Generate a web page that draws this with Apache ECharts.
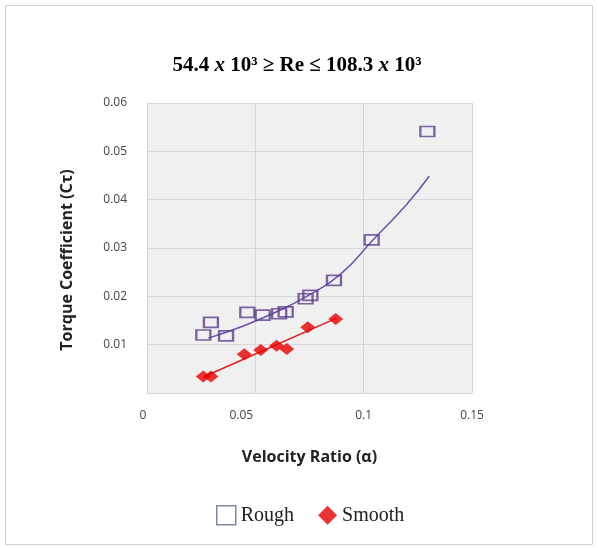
<!DOCTYPE html>
<html>
<head>
<meta charset="utf-8">
<script src="https://cdn.jsdelivr.net/npm/echarts@6/dist/echarts.min.js"></script>
<style>
  html, body { margin: 0; padding: 0; background: #fff; }
  #chart { width: 598px; height: 548px; }
</style>
</head>
<body>
<div id="chart"></div>
<script>
// data
var roughAlpha = [0.026, 0.0295, 0.0365, 0.0463, 0.0534, 0.061, 0.064, 0.0732, 0.0754, 0.0863, 0.1037, 0.1294];
var roughCt = [0.0120, 0.0146, 0.0118, 0.0167, 0.0161, 0.0164, 0.0168, 0.0195, 0.0202, 0.0233, 0.0317, 0.0541];
var smoothAlpha = [0.026, 0.0295, 0.0449, 0.0525, 0.0598, 0.0645, 0.0742, 0.0871];
var smoothCt = [0.0034, 0.0034, 0.0080, 0.0089, 0.0098, 0.0091, 0.0136, 0.0153];
// trend lines
var roughTrendAlpha = [0.0283, 0.0429, 0.0583, 0.0737, 0.0891, 0.1044, 0.1198, 0.1303];
var roughTrendCt = [0.01135, 0.0136, 0.0165, 0.0200, 0.0245, 0.0317, 0.0390, 0.0449];
var smoothTrendAlpha = [0.026, 0.0875];
var smoothTrendCt = [0.0033, 0.0155];
var xTicks = [0, 0.05, 0.1, 0.15];
var yTicks = [0.01, 0.02, 0.03, 0.04, 0.05, 0.06];

function pairs(xs, ys) {
  return xs.map(function (x, i) { return [x, ys[i]]; });
}

var chart = echarts.init(document.getElementById('chart'));
var option = {
  backgroundColor: '#fff',
  animation: false,
  graphic: [{
    type: 'rect',
    shape: { x: 5.5, y: 5.5, width: 587, height: 539 },
    style: { fill: 'none', stroke: '#d0d0d0', lineWidth: 1 }
  }],
  title: {
    text: '54.4 {i|x} 10³ ≥ Re ≤ 108.3 {i|x} 10³',
    left: 292,
    top: 50,
    textAlign: 'center',
    textStyle: {
      fontFamily: 'Liberation Serif',
      fontWeight: 'bold',
      fontSize: 21,
      color: '#000',
      rich: {
        i: { fontFamily: 'Liberation Serif', fontStyle: 'italic', fontWeight: 'bold', fontSize: 21, color: '#000' }
      }
    }
  },
  legend: {
    left: 211,
    top: 500,
    itemGap: 24,
    itemWidth: 19,
    itemHeight: 19,
    textStyle: { fontFamily: 'Liberation Serif', fontSize: 20, color: '#222' },
    data: [
      { name: 'Rough', icon: 'rect', itemStyle: { color: '#fff', borderColor: '#5b6b86', borderWidth: 1.5 } },
      { name: 'Smooth', icon: 'diamond', itemStyle: { color: '#e60000' } }
    ]
  },
  grid: {
    left: 147,
    right: 126,
    top: 103,
    bottom: 155,
    show: true,
    backgroundColor: '#f0f0f0',
    borderWidth: 0
  },
  xAxis: {
    type: 'value',
    min: 0,
    max: 0.15,
    interval: 0.05,
    name: 'Velocity Ratio (α)',
    nameLocation: 'middle',
    nameGap: 56,
    nameTextStyle: { fontFamily: 'Open Sans', fontWeight: 'bold', fontSize: 16, color: '#222' },
    axisLine: { show: false },
    axisTick: { show: false },
    axisLabel: {
      margin: 17,
      fontFamily: 'Open Sans',
      fontSize: 12,
      color: '#444',
      formatter: function (v) {
        var t = +v.toFixed(2);
        if (xTicks.indexOf(t) < 0) return '';
        if (t === 0.05) return '{a|0.05}';
        if (t === 0) return '{z|0}';
        return String(t);
      },
      rich: {
        a: { fontFamily: 'Open Sans', fontSize: 12, color: '#444', padding: [0, 28, 6, 0] },
        z: { fontFamily: 'Open Sans', fontSize: 12, color: '#444', padding: [0, 8, 0, 0] }
      }
    },
    splitLine: { show: true, lineStyle: { color: '#d6d6d6', width: 1 } }
  },
  yAxis: {
    type: 'value',
    min: 0,
    max: 0.06,
    interval: 0.01,
    name: 'Torque Coefficient (Cτ)',
    nameLocation: 'middle',
    nameGap: 72,
    nameTextStyle: { fontFamily: 'Open Sans', fontWeight: 'bold', fontSize: 16, color: '#222', padding: [0, 24, 0, 0] },
    axisLine: { show: false },
    axisTick: { show: false },
    axisLabel: {
      margin: 20,
      fontFamily: 'Open Sans',
      fontSize: 12,
      color: '#444',
      formatter: function (v) { return yTicks.indexOf(+v.toFixed(2)) >= 0 ? v.toFixed(2) : ''; }
    },
    splitLine: { show: true, lineStyle: { color: '#d6d6d6', width: 1 } }
  },
  series: [
    {
      name: 'Rough trend',
      type: 'line',
      smooth: true,
      showSymbol: false,
      silent: true,
      data: pairs(roughTrendAlpha, roughTrendCt),
      lineStyle: { color: '#6e4fb0', width: 1.5 },
      z: 2
    },
    {
      name: 'Smooth trend',
      type: 'line',
      showSymbol: false,
      silent: true,
      data: pairs(smoothTrendAlpha, smoothTrendCt),
      lineStyle: { color: '#e31a1a', width: 1.5 },
      z: 2
    },
    {
      name: 'Rough',
      type: 'scatter',
      symbol: 'rect',
      symbolSize: [14, 10],
      data: pairs(roughAlpha, roughCt),
      itemStyle: { color: 'rgba(0,0,0,0)', borderColor: '#5e3f8f', borderWidth: 2 },
      z: 3
    },
    {
      name: 'Smooth',
      type: 'scatter',
      symbol: 'diamond',
      symbolSize: [15, 12],
      data: pairs(smoothAlpha, smoothCt),
      itemStyle: { color: '#e60000' },
      z: 3
    }
  ]
};
chart.setOption(option);
</script>
</body>
</html>
